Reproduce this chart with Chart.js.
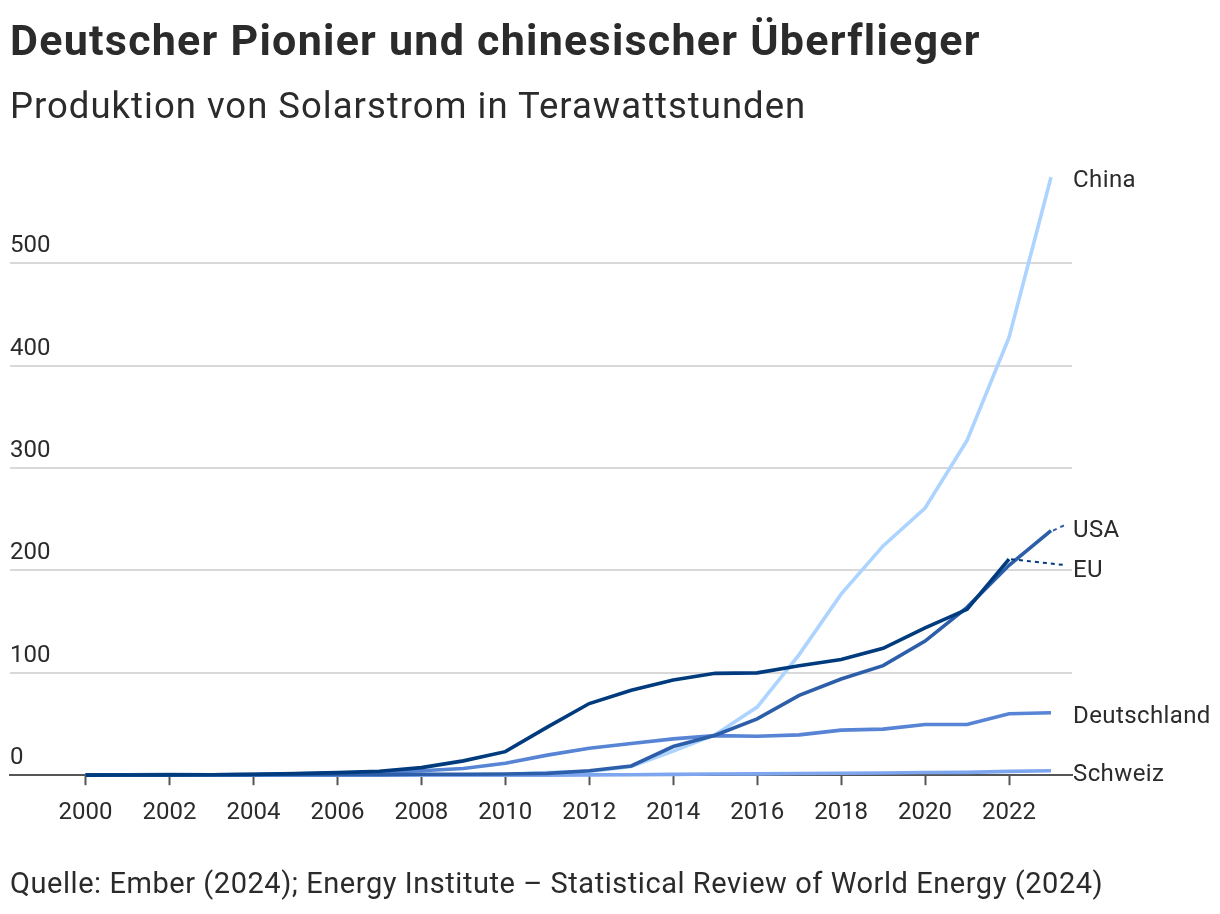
<!DOCTYPE html>
<html lang="de">
<head>
<meta charset="utf-8">
<title>Deutscher Pionier und chinesischer Überflieger</title>
<script src="https://cdn.jsdelivr.net/npm/chart.js@4.4.1/dist/chart.umd.min.js"></script>
<style>
  html, body { margin: 0; padding: 0; background: #fff; }
  #wrap { position: relative; width: 1220px; height: 914px; font-family: Roboto, "Noto Sans", sans-serif; color: #2b2b2b; }
  #wrap canvas { position: absolute; left: 0; top: 0; }
  .title { position: absolute; left: 10px; top: 15px; font-size: 43px; font-weight: 700; letter-spacing: 1.25px; white-space: nowrap; }
  .subtitle { position: absolute; left: 10px; top: 84px; font-size: 36.5px; font-weight: 400; letter-spacing: 1px; white-space: nowrap; }
  .source { position: absolute; left: 10px; top: 866px; font-size: 29px; font-weight: 400; letter-spacing: 0.55px; white-space: nowrap; }
</style>
</head>
<body>
<div id="wrap">
  <canvas id="solarChart" width="1220" height="914"></canvas>
  <div class="title">Deutscher Pionier und chinesischer Überflieger</div>
  <div class="subtitle">Produktion von Solarstrom in Terawattstunden</div>
  <div class="source">Quelle: Ember (2024); Energy Institute – Statistical Review of World Energy (2024)</div>
</div>
<script>
// Werte in TWh
const years = [2000, 2001, 2002, 2003, 2004, 2005, 2006, 2007, 2008, 2009, 2010, 2011,
               2012, 2013, 2014, 2015, 2016, 2017, 2018, 2019, 2020, 2021, 2022, 2023];
const china = [0, 0, 0, 0, 0, 0, 0.1, 0.1, 0.2, 0.3, 0.7, 2.6,
               3.6, 8.4, 23.5, 39.5, 66.5, 117.8, 176.9, 224, 261, 327, 427.7, 584.2];
const usa = [0.5, 0.5, 0.6, 0.5, 0.6, 0.6, 0.5, 0.6, 0.9, 1.0, 1.2, 1.8,
             4.3, 9.0, 28, 39, 55, 78, 94, 107, 131, 164, 205, 239];
const eu = [0.1, 0.2, 0.3, 0.5, 0.8, 1.5, 2.5, 3.8, 7.4, 14, 23, 47,
            70, 83, 93, 99.5, 100, 107, 113, 124, 144, 162, 211, null];
const deutschland = [0.06, 0.1, 0.2, 0.3, 0.6, 1.3, 2.2, 3.1, 4.4, 6.6, 11.7, 19.6,
                     26.4, 31, 35.5, 38.7, 38.1, 39.4, 44, 45, 49.5, 49.5, 60, 61];
const schweiz = [0, 0, 0, 0, 0, 0, 0, 0, 0, 0, 0.1, 0.1,
                 0.3, 0.5, 0.8, 1.1, 1.3, 1.7, 1.9, 2.2, 2.6, 2.8, 3.7, 4.3];

const seriesNames = ['EU', 'USA', 'Deutschland', 'Schweiz', 'China'];
const xTicks = [2000, 2002, 2004, 2006, 2008, 2010, 2012, 2014, 2016, 2018, 2020, 2022];
const yTicks = [0, 100, 200, 300, 400, 500];

const toPoints = arr => arr.map((v, i) => ({ x: years[i], y: v }));

// Beschriftung am Linienende (Versatz für USA/EU, mit gepunkteter Linie)
const labelShift = { 'USA': -4, 'EU': 8 };

const endLabels = {
    id: 'endLabels',
    afterDatasetsDraw(chart) {
        const { ctx, chartArea, scales } = chart;
        ctx.save();
        ctx.font = '400 24px Roboto, "Noto Sans", sans-serif';
        ctx.fillStyle = '#2b2b2b';
        ctx.textBaseline = 'middle';
        ctx.textAlign = 'left';
        chart.data.datasets.forEach(ds => {
            const pts = ds.data.filter(p => p.y !== null);
            const last = pts[pts.length - 1];
            const px = scales.x.getPixelForValue(last.x);
            const py = scales.y.getPixelForValue(last.y);
            const shift = labelShift[ds.label] || 0;
            const ly = py + shift;
            if (shift) {
                ctx.save();
                ctx.strokeStyle = ds.borderColor;
                ctx.lineWidth = 2;
                ctx.setLineDash([4, 4]);
                ctx.beginPath();
                ctx.moveTo(px + 2, py);
                ctx.lineTo(chartArea.right - 6, ly - 2);
                ctx.stroke();
                ctx.restore();
            }
            if ('letterSpacing' in ctx) ctx.letterSpacing = '0.4px';
            ctx.fillText(ds.label, chartArea.right + 1, ly + 4);
        });
        ctx.restore();
    }
};

const colors = {
    'China': '#acd4ff',
    'Schweiz': '#7ea6ef',
    'Deutschland': '#5784d4',
    'USA': '#2c5ea9',
    'EU': '#003b7d',
};
const values = { 'China': china, 'USA': usa, 'EU': eu, 'Deutschland': deutschland, 'Schweiz': schweiz };

const tickFont = { family: 'Roboto, "Noto Sans", sans-serif', size: 24 };

const ctx = document.getElementById('solarChart').getContext('2d');
new Chart(ctx, {
    type: 'line',
    data: {
        datasets: seriesNames.map(name => ({
            label: name,
            data: toPoints(values[name]),
            borderColor: colors[name],
            borderWidth: 3.6,
            pointRadius: 0,
            tension: 0,
            spanGaps: false,
            clip: false,
        })),
    },
    options: {
        responsive: false,
        animation: false,
        events: [],
        layout: { padding: { left: 10, right: 148, top: 161, bottom: 74 } },
        plugins: {
            legend: { display: false },
            tooltip: { enabled: false },
        },
        scales: {
            x: {
                type: 'linear',
                min: 1998.2,
                max: 2023.5,
                afterBuildTicks: scale => { scale.ticks = xTicks.map(v => ({ value: v })); },
                grid: {
                    drawOnChartArea: false,
                    drawTicks: true,
                    tickLength: 10,
                    tickColor: '#555',
                    tickWidth: 2,
                },
                border: { display: true, color: '#555', width: 2 },
                ticks: {
                    color: '#2b2b2b',
                    font: tickFont,
                    padding: 13,
                    maxRotation: 0,
                    autoSkip: false,
                    callback: v => String(v),
                },
            },
            y: {
                min: 0,
                max: 600,
                afterBuildTicks: scale => { scale.ticks = yTicks.map(v => ({ value: v })); },
                grid: {
                    color: c => c.tick && c.tick.value === 0 ? 'rgba(0,0,0,0)' : '#d9d9d9',
                    lineWidth: 2,
                    drawTicks: false,
                },
                border: { display: false },
                ticks: {
                    mirror: true,
                    padding: 0,
                    labelOffset: -17,
                    color: '#2b2b2b',
                    font: tickFont,
                    callback: v => String(v),
                },
            },
        },
    },
    plugins: [endLabels],
});
</script>
</body>
</html>
